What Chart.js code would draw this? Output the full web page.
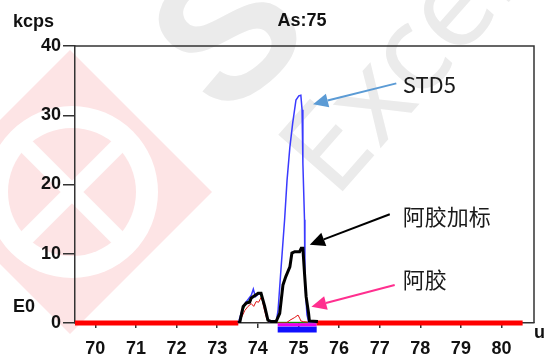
<!DOCTYPE html>
<html>
<head>
<meta charset="utf-8">
<script src="https://cdn.jsdelivr.net/npm/chart.js@4.4.1/dist/chart.umd.min.js"></script>
<style>
  html, body { margin: 0; padding: 0; background: #fff; }
  canvas { display: block; }
</style>
</head>
<body>
<canvas id="scan" width="545" height="360"></canvas>
<script>
// -----------------------------------------------------------------------------
// DATA (mass scan around As 75, kcps)
// -----------------------------------------------------------------------------
const xTicks = [70, 71, 72, 73, 74, 75, 76, 77, 78, 79, 80];
const yTicks = [0, 10, 20, 30, 40];

// STD5 (blue)
const stdX = [73.52, 73.6, 73.68, 73.76, 73.84, 73.89, 73.94, 74.0, 74.08, 74.16, 74.24, 74.32, 74.45,
              74.5, 74.57, 74.66, 74.72, 74.79, 74.86, 74.94, 75.01, 75.06, 75.09, 75.11, 75.15,
              75.16, 75.21, 75.26, 75.45];
const stdY = [0, 1.6, 2.8, 3.4, 4.0, 4.9, 3.8, 4.1, 4.3, 2.5, 0.5, 0, 0,
              1.9, 7.7, 14.9, 20.6, 25.4, 28.9, 32.2, 32.8, 32.9, 30.8, 23.1, 14.9,
              6.2, 1.2, 0, 0];

// 阿胶加标 (black)
const spkX = [73.52, 73.56, 73.64, 73.72, 73.8, 73.84, 74.01, 74.08, 74.17, 74.25, 74.33, 74.45,
              74.54, 74.62, 74.69, 74.79, 74.84, 74.91, 75.03, 75.07, 75.11, 75.15, 75.19, 75.25,
              75.27, 75.48];
const spkY = [0, 0.2, 2.4, 2.9, 3.0, 3.6, 4.3, 4.3, 2.4, 0.4, 0.2, 0.2,
              1.4, 5.5, 6.7, 8.1, 10.1, 10.3, 10.3, 10.8, 10.8, 7.2, 3.8, 1.4,
              0.3, 0.2];

// 阿胶 (red)
const smpX = [73.52, 73.6, 73.68, 73.76, 73.84, 73.9, 73.96, 74.02, 74.09, 74.15, 74.22, 74.3,
              74.7, 74.79, 74.91, 74.99, 75.03, 75.06, 75.12, 75.45];
const smpY = [0, 0.8, 1.8, 2.4, 2.8, 2.4, 3.1, 3.0, 3.8, 2.2, 0.6, 0,
              0, 0.4, 0.8, 1.15, 0.7, 0.3, 0.2, 0];

// blank (green)
const blkX = [73.55, 73.64, 73.72, 73.77, 73.84, 73.9, 74.0, 74.06, 74.15, 74.24, 74.32, 74.5, 75.4];
const blkY = [0, 1.9, 3.0, 3.3, 3.5, 3.9, 4.4, 4.2, 2.5, 0.4, 0, 0.1, 0.1];

// baseline segments and integration window
const baseLeftX = [69.5, 73.52];
const baseRightX = [75.45, 80.52];
const windowX = [74.49, 75.45];
const windowTopY = -0.25;
const windowLowY = -0.95;

// labelled arrows: text, text anchor, arrow tail, arrow tip (data units)
const noteText = ['STD5', '阿胶加标', '阿胶'];
const noteAt = [[77.57, 34.4], [77.57, 15.3], [77.57, 6.2]];
const noteTail = [[77.41, 34.6], [77.25, 15.7], [77.37, 5.5]];
const noteTip = [[75.36, 31.6], [75.28, 11.3], [75.32, 2.35]];
const noteColor = ['#5b9bd5', '#000000', '#ff2f8f'];

// -----------------------------------------------------------------------------
// HELPERS
// -----------------------------------------------------------------------------
const toPoints = (xs, ys) => xs.map((x, i) => ({ x, y: Array.isArray(ys) ? ys[i] : ys }));

const lineSet = (data, color, width, order, clip) => ({
  data,
  borderColor: color,
  borderWidth: width,
  pointRadius: 0,
  tension: 0,
  fill: false,
  order,
  clip: clip === false ? false : undefined,
});

const tickFont = { family: "'Liberation Sans', Arial, sans-serif", size: 18, weight: 'bold' };

// -----------------------------------------------------------------------------
// PLUGINS
// -----------------------------------------------------------------------------
const watermark = {
  id: 'watermark',
  beforeDraw(chart) {
    const ctx = chart.ctx;
    ctx.save();
    // pink diamond logo
    ctx.fillStyle = '#fde4e5';
    ctx.beginPath();
    ctx.moveTo(70, 50); ctx.lineTo(212, 192); ctx.lineTo(70, 334); ctx.lineTo(-72, 192);
    ctx.closePath();
    ctx.fill();
    ctx.fillStyle = '#ffffff';
    ctx.beginPath(); ctx.arc(72, 192, 86, 0, Math.PI * 2); ctx.fill();
    ctx.fillStyle = '#fde4e5';
    ctx.beginPath(); ctx.arc(72, 192, 64, 0, Math.PI * 2); ctx.fill();
    ctx.strokeStyle = '#ffffff';
    ctx.lineWidth = 16;
    ctx.beginPath();
    ctx.moveTo(22, 142); ctx.lineTo(122, 242);
    ctx.moveTo(122, 142); ctx.lineTo(22, 242);
    ctx.stroke();
    // gray text logo
    ctx.fillStyle = '#ebebeb';
    ctx.font = "bold 190px 'Liberation Sans', sans-serif";
    ctx.translate(235, 40);
    ctx.rotate(-0.7);
    ctx.textAlign = 'center';
    ctx.textBaseline = 'middle';
    ctx.fillText('S', 0, 0);
    ctx.setTransform(1, 0, 0, 1, 0, 0);
    ctx.font = "120px 'Noto Sans', sans-serif";
    ctx.translate(335, 200);
    ctx.rotate(-0.85);
    ctx.textAlign = 'left';
    ctx.textBaseline = 'alphabetic';
    ctx.fillText('Excel', 0, 0);
    ctx.restore();
  }
};

const frame = {
  id: 'frame',
  afterDatasetsDraw(chart) {
    const { ctx, chartArea: a } = chart;
    ctx.save();
    ctx.strokeStyle = '#333';
    ctx.lineWidth = 1.5;
    ctx.beginPath();
    ctx.moveTo(a.left, a.top);
    ctx.lineTo(a.right, a.top);
    ctx.lineTo(a.right, a.bottom);
    ctx.stroke();
    ctx.restore();
  }
};

const notes = {
  id: 'notes',
  afterDraw(chart) {
    const { ctx, scales: { x, y } } = chart;
    ctx.save();
    noteText.forEach((txt, i) => {
      const tx = x.getPixelForValue(noteTail[i][0]), ty = y.getPixelForValue(noteTail[i][1]);
      const hx = x.getPixelForValue(noteTip[i][0]), hy = y.getPixelForValue(noteTip[i][1]);
      const ang = Math.atan2(hy - ty, hx - tx);
      const len = 15, half = 7;
      const bx = hx - len * Math.cos(ang), by = hy - len * Math.sin(ang);
      ctx.strokeStyle = noteColor[i];
      ctx.fillStyle = noteColor[i];
      ctx.lineWidth = 2;
      ctx.beginPath();
      ctx.moveTo(tx, ty);
      ctx.lineTo(bx, by);
      ctx.stroke();
      ctx.beginPath();
      ctx.moveTo(hx, hy);
      ctx.lineTo(bx + half * Math.sin(ang), by - half * Math.cos(ang));
      ctx.lineTo(bx - half * Math.sin(ang), by + half * Math.cos(ang));
      ctx.closePath();
      ctx.fill();

      ctx.fillStyle = '#1a1a1a';
      ctx.font = "22px 'Noto Sans CJK SC', 'Noto Sans', sans-serif";
      ctx.textAlign = 'left';
      ctx.textBaseline = 'middle';
      ctx.fillText(txt, x.getPixelForValue(noteAt[i][0]), y.getPixelForValue(noteAt[i][1]));
    });

    // axis captions
    ctx.fillStyle = '#111';
    ctx.font = "bold 18px 'Liberation Sans', Arial, sans-serif";
    ctx.textBaseline = 'alphabetic';
    ctx.textAlign = 'left';
    ctx.fillText('kcps', 13, 27);
    ctx.fillText('E0', 13, 312);
    ctx.fillText('u', 534, 338);
    ctx.textAlign = 'center';
    ctx.fillText('As:75', 302, 26);
    ctx.restore();
  }
};

// -----------------------------------------------------------------------------
// CHART
// -----------------------------------------------------------------------------
new Chart(document.getElementById('scan'), {
  type: 'line',
  data: {
    datasets: [
      lineSet(toPoints(spkX, spkY), '#000000', 3, 0),
      lineSet(toPoints(stdX, stdY), '#3a3aff', 1.5, 1),
      lineSet(toPoints(smpX, smpY), '#e01010', 1, 2),
      lineSet(toPoints(blkX, blkY), '#00b000', 1, 3),
      lineSet(toPoints(baseLeftX, 0), '#ff0000', 5, 4, false),
      lineSet(toPoints(baseRightX, 0), '#ff0000', 5, 4, false),
      lineSet(toPoints(windowX, windowTopY), '#ee00ee', 3, 5, false),
      lineSet(toPoints(windowX, windowLowY), '#1010ff', 6, 6, false),
    ]
  },
  options: {
    responsive: false,
    devicePixelRatio: 1,
    animation: false,
    layout: { padding: { left: 0, top: 46, right: 11, bottom: 0 } },
    plugins: { legend: { display: false }, tooltip: { enabled: false } },
    scales: {
      x: {
        type: 'linear',
        min: 69.5,
        max: 80.8,
        afterBuildTicks: s => { s.ticks = xTicks.map(v => ({ value: v })); },
        afterFit: s => { s.height = 37; },
        ticks: { font: tickFont, color: '#111', padding: 10, maxRotation: 0, autoSkip: false },
        grid: { drawOnChartArea: false, tickLength: 5, color: '#333', lineWidth: 1.5 },
        border: { color: '#333', width: 1.5 },
      },
      y: {
        min: 0,
        max: 40,
        afterBuildTicks: s => { s.ticks = yTicks.map(v => ({ value: v })); },
        afterFit: s => { s.width = 75; },
        ticks: { font: tickFont, color: '#111', padding: 2 },
        grid: { drawOnChartArea: false, tickLength: 12, color: '#333', lineWidth: 1.5 },
        border: { color: '#333', width: 1.5 },
      }
    }
  },
  plugins: [watermark, frame, notes]
});
</script>
</body>
</html>
